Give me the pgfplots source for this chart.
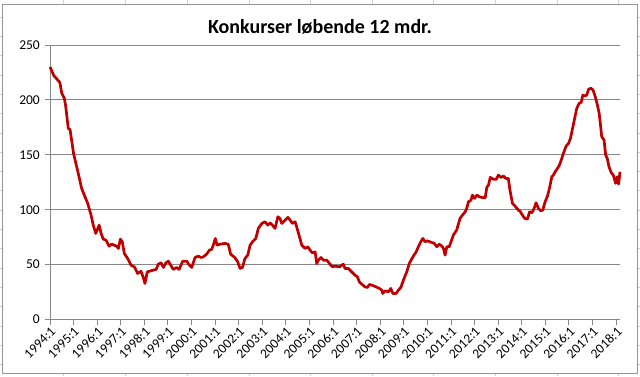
\documentclass[border=0pt]{standalone}
\usepackage{pgfplots}
\pgfplotsset{compat=1.18}
\usepackage{fontspec}
\setmainfont{Carlito}
\definecolor{linered}{HTML}{C00000}
\definecolor{gridgray}{HTML}{878787}
\definecolor{sheetgray}{HTML}{D0D0D0}
\begin{document}
\begin{tikzpicture}[x=1pt,y=1pt]
\path[use as bounding box] (0pt,0pt) rectangle (640pt,376pt);
\foreach \xx in {63,125,187,249,310,372,433,495,557,618} {
  \draw[sheetgray, line width=0.8pt] (\xx pt,0pt) -- (\xx pt,3pt);
  \draw[sheetgray, line width=0.8pt] (\xx pt,372pt) -- (\xx pt,376pt);
}
\foreach \k in {0,...,18} {
  \pgfmathsetmacro{\yy}{376-17.1-19.3*\k}
  \draw[sheetgray, line width=0.8pt] (637pt,\yy pt) -- (640pt,\yy pt);
  \draw[sheetgray, line width=0.8pt] (0pt,\yy pt) -- (2pt,\yy pt);
}
\draw[color=gridgray!90, line width=0.9pt] (2pt,3pt) rectangle (637pt,372pt);
\node[font=\fontsize{20}{24}\selectfont\bfseries, anchor=base, inner sep=0pt] at (320pt,343pt) {Konkurser løbende 12 mdr.};
\begin{axis}[
  at={(50pt,56.5pt)}, anchor=south west,
  scale only axis, width=570pt, height=274.5pt,
  xmin=0, xmax=290, ymin=0, ymax=250,
  axis lines*=left,
  axis line style={gridgray, line width=0.9pt},
  ymajorgrids, grid style={gridgray, line width=0.9pt},
  ytick={0,50,100,150,200,250},
  xtick={0,12,...,288},
  xticklabels={1994:1,1995:1,1996:1,1997:1,1998:1,1999:1,2000:1,2001:1,2002:1,2003:1,2004:1,2005:1,2006:1,2007:1,2008:1,2009:1,2010:1,2011:1,2012:1,2013:1,2014:1,2015:1,2016:1,2017:1,2018:1},
  tick align=outside, major tick length=5pt,
  tick style={gridgray, line width=0.9pt},
  tick label style={font=\fontsize{13.5}{16}\selectfont, black},
  /pgf/number format/assume math mode=true,
  x tick label style={rotate=45, anchor=north east, inner sep=1pt},
  y tick label style={inner sep=2pt, xshift=-3pt},
  clip=false,
]
\addplot[linered, line width=2.7pt, line join=round] table {
m v
0 230
2 222
4 218
5 216
6 206
7.3 201.5
8 194
9.3 174
10.2 173
12 151
13.6 139
14.2 134.5
16.1 119.4
17.8 111.8
19.2 105.7
20.9 95
22 86
23.3 78.4
25 86
26 78.4
27.1 73.2
28.5 72.3
30 66.8
31.4 68.6
33.9 66.8
34.8 64.7
35.8 73.2
36.8 70.7
37.8 60.2
39.5 55.6
41.2 49.5
42.9 48
44.6 41.9
46.3 44
47.5 38
48.3 32.8
49.5 43.4
52.6 45
54 45.6
55.1 50.4
56.5 51.6
57.7 47.4
59 51.6
60.2 53.1
61.4 49.5
62.7 45.6
64.4 47.4
65.7 45.6
67.5 53.1
69.6 53.1
70.9 49.5
72.1 47.4
73.8 56.5
75.5 57.7
76.7 56.5
78 57
79.7 59.5
81.1 63.2
82.2 63.8
83.1 67.7
84.1 73.8
85.1 67.7
86.5 68.6
89 69.3
90.7 68.6
91.9 59.5
94 56.5
95.5 52.5
96.7 46.5
97.9 47.4
99.2 55.6
100.6 58.6
101.8 67.7
103 70.7
104.7 73.8
106 83
107.8 87.5
109.4 89
110.8 86
112 88
113.1 86
114.5 83
115.9 93.5
117 92
117.9 87.5
119.6 90.5
121 93
122.2 90.5
123.3 87.5
124.7 89
125.5 84.4
126.7 76.8
128.1 67.7
129.8 64.7
131.1 66.2
132.3 63.2
133.5 60.7
134.9 61.6
135.7 51
136.5 54
137.9 56.5
139.1 54
140.8 54
142.5 50.4
143.7 48
145 48.6
147.3 48
149.2 50.4
150.1 46.5
151.8 46.5
153.5 43.4
155.2 40.4
156.4 38.8
157.4 34.3
158.6 32.2
160.3 29.7
161.5 29.2
162.5 31.9
164.2 31
165.9 29.7
167.6 28.3
168.8 26.7
169.3 23.7
170.5 26.1
172.2 25.2
173.4 28.3
174.4 23.7
176.1 23.7
177.2 26.7
178.5 29.2
179.8 35.8
181.5 43.4
182.8 51
184.6 57
186.3 61.6
187.4 66.2
188.6 70.7
189.7 73.8
190.8 70.7
191.7 71.7
193.4 70.7
195.5 69.3
196.8 66.2
198 68.6
199.4 66.8
200.2 64.7
201 58.6
201.9 66.2
203.1 66.2
204 70.7
205.2 76.8
206.9 81.4
208.6 92
209.8 95
211.2 98
212 101.2
212.9 107.2
214.2 108.7
214.9 113.3
216 110.3
217.2 113.3
218.4 111.8
219.7 111.2
221.4 110.8
222.3 120.9
223.1 122.4
224 129.4
225.8 127.6
227 127.6
228.1 131.5
229.5 129.4
230.7 130.6
231.9 128.5
233.2 128.5
234 117.9
235.3 105.7
236.6 103.3
238.3 99.6
239.2 98.5
240.9 93.5
241.7 92
242.9 91.4
244 98.1
245.2 97.2
246.3 101.2
247.3 106.3
248.5 101.2
249.7 99
250.7 99.6
251.9 107.2
253.1 112.4
254.1 119.4
255.3 130
256.1 131.5
257 134.5
258.2 137.6
259.2 140.7
260.4 146.8
261.2 151.3
262.6 158
263.8 160.4
264.8 165
265.5 171
268 192.3
269.2 196.9
270.3 197.8
271.1 204.5
272.1 203.5
273.1 204.5
274 209.7
275.2 210.6
276.3 209
277.4 202.9
278.5 195.3
279.4 187.8
280.2 175
280.7 166.5
281.9 163.4
282.7 149.8
283.5 146.8
284.4 139.1
285.6 133.6
286.6 131.5
287.8 124
288.6 130
289.3 123.3
290 134.5
};
\end{axis}
\end{tikzpicture}
\end{document}
